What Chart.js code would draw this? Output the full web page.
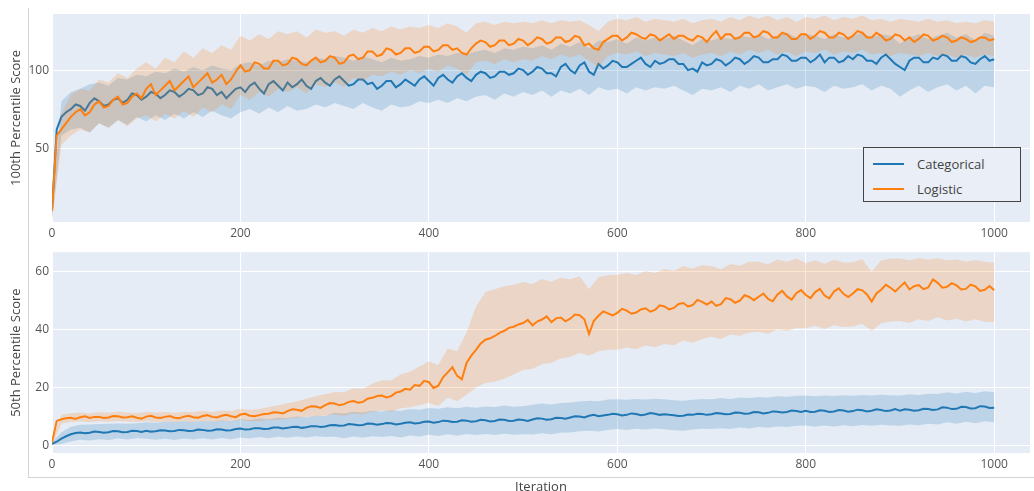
<!DOCTYPE html>
<html>
<head>
<meta charset="utf-8">
<title>Percentile Score by Iteration</title>
<script src="https://cdn.jsdelivr.net/npm/chart.js@4.4.1/dist/chart.umd.min.js"></script>
<style>
  html, body { margin: 0; padding: 0; background: #fff; }
  body { width: 1034px; height: 491px; position: relative; overflow: hidden; font-family: "Open Sans", sans-serif; }
  .frame { position: absolute; left: 28px; top: 8px; width: 1006px; height: 470px;
           border-left: 1px solid #d4d4d4; border-bottom: 1px solid #d4d4d4; box-sizing: border-box; }
  canvas { position: absolute; left: 0; }
  #topChart { top: 0; }
  #bottomChart { top: 242px; }
  .legend { position: absolute; left: 863px; top: 147px; width: 158px; height: 55px; box-sizing: border-box;
            border: 1px solid #444; background: #e9eef7; }
  .legend .item { position: absolute; left: 0; height: 20px; width: 100%; }
  .legend .swatch { position: absolute; left: 9px; top: 9px; width: 31px; height: 2px; }
  .legend .label { position: absolute; left: 53px; top: 0; font-size: 13px; line-height: 20px; color: #444; }
</style>
</head>
<body>
<div class="frame"></div>
<canvas id="topChart" width="1034" height="242"></canvas>
<canvas id="bottomChart" width="1034" height="262"></canvas>
<div class="legend" id="legend"></div>

<script>
// Iteration steps for the shaded min/max bands
const bandIterations = [
  0,10,20,30,40,50,60,70,80,90,
  100,110,120,130,140,150,160,170,180,190,
  200,210,220,230,240,250,260,270,280,290,
  300,310,320,330,340,350,360,370,380,390,
  400,410,420,430,440,450,460,470,480,490,
  500,510,520,530,540,550,560,570,580,590,
  600,610,620,630,640,650,660,670,680,690,
  700,710,720,730,740,750,760,770,780,790,
  800,810,820,830,840,850,860,870,880,890,
  900,910,920,930,940,950,960,970,980,990,
  1000
];

// Iteration steps for the mean lines
const lineIterations = [
  0,5,10,15,20,25,30,35,40,45,50,55,60,65,70,75,80,85,90,95,
  100,105,110,115,120,125,130,135,140,145,150,155,160,165,170,175,180,185,190,195,
  200,205,210,215,220,225,230,235,240,245,250,255,260,265,270,275,280,285,290,295,
  300,305,310,315,320,325,330,335,340,345,350,355,360,365,370,375,380,385,390,395,
  400,405,410,415,420,425,430,435,440,445,450,455,460,465,470,475,480,485,490,495,
  500,505,510,515,520,525,530,535,540,545,550,555,560,565,570,575,580,585,590,595,
  600,605,610,615,620,625,630,635,640,645,650,655,660,665,670,675,680,685,690,695,
  700,705,710,715,720,725,730,735,740,745,750,755,760,765,770,775,780,785,790,795,
  800,805,810,815,820,825,830,835,840,845,850,855,860,865,870,875,880,885,890,895,
  900,905,910,915,920,925,930,935,940,945,950,955,960,965,970,975,980,985,990,995,
  1000
];

const seriesNames = ['Categorical', 'Logistic'];
const seriesColors = ['#1f77b4', '#ff7f0e'];
const bandColors = ['rgba(31,119,180,0.2)', 'rgba(255,127,14,0.2)'];
const xTicks = [0, 200, 400, 600, 800, 1000];

// --- 100th percentile score ---
const catTop = [
  10,62,70,73,75,78,77,74,79,82,80,77,78,81,82,79,81,85,84,81,
  83,86,85,82,84,87,86,83,85,88,87,84,85,89,88,84,86,82,85,88,
  89,86,90,92,88,85,91,93,90,87,92,89,91,94,90,88,93,95,92,90,
  94,96,93,90,91,94,94,91,92,88,90,93,93,89,91,94,92,90,94,96,
  93,90,95,97,94,92,96,98,95,93,97,99,98,95,96,99,99,97,98,101,
  100,97,99,102,101,98,98,96,102,104,100,98,103,105,99,97,104,101,103,106,
  105,102,102,104,106,108,104,102,106,104,105,107,107,104,104,100,101,99,105,103,
  104,107,106,103,105,108,107,104,106,109,108,105,105,107,107,110,109,106,106,108,
  108,105,107,110,105,108,108,105,106,109,107,110,109,106,106,104,108,110,107,104,
  102,100,106,108,108,105,105,108,107,110,109,106,106,109,108,105,104,107,109,106,
  107
];
const catTopLo = [
  4,58,62,63,60,66,63,68,65,70,
  67,71,68,72,69,73,70,74,71,69,
  73,75,72,76,73,77,74,75,78,76,
  79,77,75,79,76,74,78,76,77,80,
  79,81,79,82,80,83,84,81,85,83,
  86,84,87,83,87,85,88,84,89,87,
  88,85,89,87,89,88,90,87,84,88,
  87,89,86,90,88,91,87,89,91,88,
  90,89,86,90,88,89,91,87,90,88,
  83,87,90,86,89,91,87,90,85,90,
  89
];
const catTopHi = [
  16,80,86,88,91,92,90,95,94,97,
  96,99,98,101,99,102,100,103,101,100,
  104,105,103,106,105,107,106,105,108,107,
  109,108,106,109,107,105,108,106,107,109,
  108,110,109,111,110,112,113,111,114,113,
  115,114,116,113,117,115,118,114,119,118,
  120,117,121,119,121,120,122,119,116,120,
  119,121,120,122,121,123,120,122,124,121,
  123,122,120,123,121,122,124,121,123,122,
  117,121,123,120,122,124,121,123,119,124,
  122
];
const logTop = [
  10,58,62,66,70,73,75,71,73,78,80,76,77,81,83,78,79,83,85,82,
  88,91,84,87,90,93,87,90,93,96,89,92,95,98,92,94,97,91,94,99,
  103,99,100,105,104,101,101,106,106,103,104,108,107,104,103,106,108,105,106,109,
  108,104,105,109,110,107,108,112,112,109,110,114,113,110,111,114,114,111,112,115,
  115,112,113,116,116,113,114,111,110,114,117,119,118,115,116,119,119,116,117,120,
  119,116,118,121,120,117,118,121,121,118,119,122,121,116,117,114,113,118,120,122,
  122,119,121,124,123,121,120,123,122,119,121,123,120,122,122,120,119,122,121,118,
  122,125,120,123,123,120,121,124,124,121,122,125,124,121,121,124,123,120,120,123,
  123,120,122,125,124,121,121,124,123,120,122,125,124,121,121,124,122,119,120,123,
  122,119,121,118,120,123,122,119,120,122,121,118,119,121,120,118,119,121,121,119,
  120
];
const logTopLo = [
  4,52,58,62,60,66,63,68,64,69,
  71,67,72,69,74,70,76,73,78,75,
  84,81,86,83,88,86,89,85,91,89,
  92,89,95,93,97,96,99,97,100,98,
  101,99,103,101,97,105,106,104,107,105,
  107,106,109,107,110,108,110,106,102,109,
  111,110,112,109,111,110,109,111,108,110,
  111,109,112,110,113,111,113,110,112,109,
  112,111,113,110,112,111,113,110,111,109,
  111,110,109,111,109,110,108,110,108,110,
  109
];
const logTopHi = [
  16,72,84,88,87,94,92,98,95,101,
  105,101,108,105,112,108,114,111,116,113,
  122,119,123,120,125,123,125,121,126,124,
  125,122,126,124,127,125,128,126,128,127,
  129,127,130,128,124,130,131,129,131,130,
  131,130,132,130,132,131,132,129,125,131,
  133,132,134,131,133,132,131,133,130,132,
  133,131,134,132,135,133,135,132,134,131,
  134,133,135,132,134,133,135,132,133,131,
  133,132,131,133,131,132,130,131,130,132,
  131
];

// --- 50th percentile score ---
const catBot = [
  0.5,1.2,2.3,3.1,3.8,4.2,4.4,4.1,4.3,4.7,4.6,4.3,4.5,4.9,4.8,4.5,4.6,5.0,4.9,4.6,
  5.0,4.7,4.8,5.2,5.1,4.8,4.9,5.3,5.2,4.9,5.0,5.4,5.3,5.0,5.1,5.5,5.4,5.1,5.2,5.6,
  5.8,5.4,5.5,5.9,5.9,5.6,5.7,6.1,6.1,5.8,6.0,6.3,6.4,6.0,6.2,6.6,6.6,6.3,6.5,6.9,
  7.0,6.7,6.8,7.3,7.2,6.9,7.0,7.5,7.4,7.1,7.3,7.7,7.6,7.2,7.4,7.8,7.9,7.5,7.7,8.1,
  8.2,7.8,8.0,8.5,8.4,8.0,8.1,8.6,8.5,8.1,8.3,8.8,8.6,8.2,8.4,8.9,8.8,8.4,8.5,8.9,
  8.7,8.4,8.9,9.3,9.2,8.8,9.0,9.5,9.4,9.2,9.6,10.0,9.9,9.6,10.2,10.5,10.0,10.3,10.5,10.9,
  10.7,10.3,10.5,11.0,10.8,10.4,10.6,11.1,10.9,10.5,10.7,10.5,10.4,10.1,10.2,10.6,10.5,10.9,10.8,10.5,
  10.7,11.1,11.0,10.7,10.8,11.3,11.2,10.9,11.0,11.5,11.4,11.0,11.2,11.7,11.6,11.3,11.5,12.0,11.8,11.5,
  11.9,11.5,11.6,12.1,11.9,11.5,11.7,12.2,12.0,11.6,11.8,12.3,12.1,11.7,11.9,12.4,12.2,11.8,12.0,12.5,
  11.9,12.4,12.3,11.9,12.1,12.6,12.5,12.2,12.4,13.1,13.0,12.5,12.6,13.3,13.2,12.7,12.8,13.5,13.4,12.9,
  13.0
];
const catBotLo = [
  0.0,0.4,1.3,1.9,1.6,2.1,1.8,2.3,2.0,2.4,
  2.2,1.9,2.2,1.8,2.3,2.0,2.4,2.0,2.5,2.1,
  2.7,2.3,2.8,2.4,2.9,2.6,3.0,2.7,3.1,2.8,
  2.9,2.4,3.0,2.6,3.1,2.8,3.2,2.7,3.4,3.0,
  3.6,3.2,3.8,3.3,3.9,3.5,3.9,3.5,4.0,3.6,
  3.8,3.7,4.1,3.8,4.3,4.4,4.8,5.0,4.7,5.3,
  5.6,5.3,5.7,5.4,5.8,5.5,5.2,5.0,5.4,5.7,
  5.6,5.9,5.6,6.1,5.8,6.3,6.0,6.5,6.3,6.7,
  6.8,6.4,6.8,6.5,6.9,6.6,7.0,6.7,7.1,6.8,
  6.7,7.2,6.9,7.4,7.2,7.9,7.4,8.1,7.6,8.3,
  7.9
];
const catBotHi = [
  1.0,4.5,6.4,7.1,7.2,7.3,7.4,7.5,7.4,7.6,
  7.9,7.8,8.1,8.0,8.3,8.1,8.4,8.2,8.6,8.3,
  9.0,8.7,9.2,9.0,9.5,9.4,9.9,9.6,10.2,10.1,
  11.2,11.0,11.6,11.3,11.9,11.7,12.1,11.9,12.5,12.3,
  12.9,12.6,13.1,12.8,13.3,13.0,13.4,13.2,13.7,13.3,
  13.6,14.0,14.4,14.1,14.6,14.8,15.1,15.4,15.2,15.8,
  15.9,15.7,16.0,15.8,16.1,15.9,15.6,15.4,15.7,16.0,
  15.9,16.3,16.0,16.5,16.3,16.7,16.5,16.9,16.8,17.1,
  17.2,16.9,17.2,17.0,17.3,17.1,17.4,17.2,17.5,17.3,
  17.2,17.6,17.4,17.8,17.7,18.3,17.9,18.5,18.1,18.7,
  18.3
];
const logBot = [
  1.0,8.4,9.0,9.3,9.5,9.1,9.7,10.0,9.4,9.8,9.8,9.4,9.6,10.1,10.0,9.6,9.7,10.0,9.5,9.2,
  9.9,10.2,9.6,9.4,9.8,10.1,9.5,9.3,9.9,10.2,9.7,9.5,10.1,10.4,9.8,9.6,10.2,10.5,10.0,9.7,
  10.6,10.9,10.2,10.0,10.4,10.8,10.9,11.4,11.3,11.0,11.8,12.4,12.3,11.9,12.9,13.5,13.4,12.9,13.9,14.6,
  14.4,13.8,14.2,15.0,15.3,14.7,15.0,16.1,16.4,17.0,17.2,16.5,17.0,18.2,18.6,19.5,19.2,20.8,20.5,22.3,
  21.8,19.8,20.6,23.5,25.2,27.0,24.0,22.8,28.5,31.0,33.0,35.2,36.5,37.0,37.8,38.9,39.6,40.6,41.0,41.8,
  42.3,43.4,41.5,42.8,43.5,44.6,42.6,43.9,44.2,42.9,43.8,45.2,45.0,43.6,38.5,43.0,44.8,46.3,45.6,44.9,
  45.8,47.2,46.6,45.5,45.9,47.0,47.4,46.2,46.8,48.4,48.0,47.0,47.5,48.9,49.2,48.0,48.5,50.3,49.6,48.7,
  49.7,48.2,48.8,50.9,50.5,49.3,50.0,51.9,51.3,50.2,51.4,52.5,50.6,49.8,52.2,53.4,51.5,50.4,52.6,53.7,
  52.0,50.9,53.0,54.1,51.8,50.8,53.2,54.3,52.4,51.3,52.5,54.0,53.6,52.2,49.7,52.5,53.8,55.5,54.5,53.2,
  54.8,56.3,53.9,55.0,55.4,54.0,54.6,57.4,56.2,54.5,54.8,56.1,55.3,53.9,54.1,55.6,55.0,53.4,53.8,55.1,
  53.6
];
const logBotLo = [
  0.0,7.5,8.0,8.2,7.9,8.3,8.1,8.4,8.2,8.0,
  8.3,8.0,8.2,7.9,8.3,8.1,8.4,8.1,8.5,8.3,
  8.7,8.3,8.4,8.7,8.9,9.2,9.5,9.8,10.0,10.3,
  10.5,10.2,11.0,10.6,11.6,12.0,11.6,12.8,13.1,13.8,
  14.6,13.6,16.5,15.2,17.5,20.0,21.5,22.0,23.0,24.5,
  26.0,26.5,28.0,28.5,30.0,30.5,32.0,31.0,32.5,33.0,
  33.0,33.8,33.2,34.5,33.9,35.0,34.6,36.2,35.5,36.8,
  37.5,36.8,38.3,37.9,39.0,39.3,38.6,40.1,39.5,40.6,
  40.5,41.3,40.2,41.5,40.9,41.1,42.0,39.5,42.2,42.8,
  43.0,42.3,43.6,43.0,44.3,43.2,43.8,42.8,43.6,42.7,
  42.6
];
const logBotHi = [
  2.0,10.5,11.1,11.3,11.0,11.4,11.2,11.7,11.3,11.1,
  11.6,11.3,11.5,11.2,11.6,11.4,11.9,11.5,12.0,11.8,
  12.6,12.2,12.5,13.2,13.8,14.5,15.2,16.1,16.9,17.6,
  18.4,18.3,19.7,19.5,21.3,22.5,22.4,24.5,25.4,27.2,
  29.0,27.8,33.5,32.5,39.0,48.0,53.0,54.0,55.0,55.5,
  56.5,55.8,57.5,56.6,58.0,57.4,58.5,54.0,58.2,58.8,
  59.0,59.6,58.9,60.3,59.6,61.0,60.4,62.0,61.2,62.3,
  62.0,60.9,62.7,62.1,63.5,63.5,62.6,64.3,63.5,64.6,
  63.0,64.0,62.8,64.2,63.2,63.3,64.4,60.0,64.0,64.5,
  64.6,64.0,64.8,64.2,64.7,64.0,64.3,63.6,64.1,63.5,
  63.2
];

Chart.defaults.font.family = "'Open Sans', sans-serif";
Chart.defaults.color = '#555';

// paint the plot area before grid lines and data
const plotBg = {
  id: 'plotBg',
  beforeDraw(chart) {
    const { ctx, chartArea: a } = chart;
    ctx.save();
    ctx.fillStyle = '#e5ecf6';
    ctx.fillRect(a.left, a.top, a.right - a.left, a.bottom - a.top);
    ctx.restore();
  }
};

const pts = (xs, arr) => xs.map((x, i) => ({ x, y: arr[i] }));

function bandPair(lo, hi, idx, order) {
  return [
    { data: pts(bandIterations, lo), borderWidth: 0, pointRadius: 0, fill: false, order },
    { data: pts(bandIterations, hi), borderWidth: 0, pointRadius: 0, fill: '-1', backgroundColor: bandColors[idx], order }
  ];
}

function lineSet(arr, idx, order) {
  return { label: seriesNames[idx], data: pts(lineIterations, arr), borderColor: seriesColors[idx],
           borderWidth: 2, pointRadius: 0, fill: false, order };
}

function makePanel(id, p) {
  return new Chart(document.getElementById(id), {
    type: 'line',
    data: {
      datasets: [
        ...bandPair(p.catLo, p.catHi, 0, 4),
        lineSet(p.cat, 0, 3),
        ...bandPair(p.logLo, p.logHi, 1, 2),
        lineSet(p.log, 1, 1)
      ]
    },
    options: {
      responsive: false,
      animation: false,
      events: [],
      layout: { padding: { top: p.padTop, right: 4, left: 0, bottom: 0 } },
      plugins: { legend: { display: false }, tooltip: { enabled: false } },
      elements: { line: { tension: 0 } },
      scales: {
        x: {
          type: 'linear',
          min: 0,
          max: 1038,
          border: { display: false },
          grid: { color: '#ffffff', lineWidth: 1, drawTicks: false },
          ticks: { font: { size: 12 }, padding: 4, color: '#555', callback: v => String(v) },
          afterBuildTicks: s => { s.ticks = xTicks.map(v => ({ value: v })); },
          afterFit: s => { s.height = p.xHeight; },
          title: p.xTitle
            ? { display: true, text: 'Iteration', font: { size: 13 }, color: '#444', padding: { top: 0, bottom: 9 } }
            : { display: false }
        },
        y: {
          min: p.yMin,
          max: p.yMax,
          border: { display: false },
          grid: { color: '#ffffff', lineWidth: 1, drawTicks: false },
          ticks: { font: { size: 12 }, padding: 3, color: '#555', callback: v => String(v) },
          afterBuildTicks: s => { s.ticks = p.yTicks.map(v => ({ value: v })); },
          afterFit: s => { s.width = 52; },
          title: { display: true, text: p.yTitle, font: { size: 13 }, color: '#444', padding: { top: 8, bottom: 0 } }
        }
      }
    },
    plugins: [plotBg]
  });
}

makePanel('topChart', {
  cat: catTop, catLo: catTopLo, catHi: catTopHi,
  log: logTop, logLo: logTopLo, logHi: logTopHi,
  yMin: 2.6, yMax: 136, yTicks: [50, 100],
  yTitle: '100th Percentile Score', padTop: 14, xHeight: 20, xTitle: false
});

makePanel('bottomChart', {
  cat: catBot, catLo: catBotLo, catHi: catBotHi,
  log: logBot, logLo: logBotLo, logHi: logBotHi,
  yMin: -2.7, yMax: 66.8, yTicks: [0, 20, 40, 60],
  yTitle: '50th Percentile Score', padTop: 6, xHeight: 51, xTitle: true
});

// legend box inside the top panel
const legend = document.getElementById('legend');
seriesNames.forEach((name, i) => {
  const item = document.createElement('div');
  item.className = 'item';
  item.style.top = (6 + i * 25) + 'px';
  item.innerHTML = `<span class="swatch" style="background:${seriesColors[i]}"></span><span class="label">${name}</span>`;
  legend.appendChild(item);
});
</script>
</body>
</html>
